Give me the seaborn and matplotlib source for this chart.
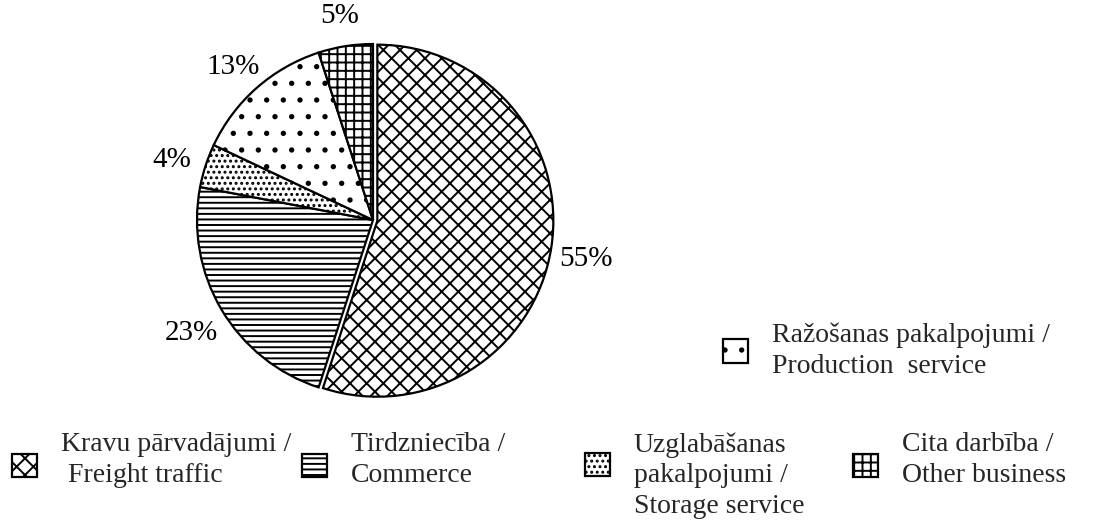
import numpy as np
import pandas as pd
import seaborn as sns
from matplotlib import pyplot as plt
from matplotlib import transforms
from matplotlib.legend_handler import HandlerPatch
from matplotlib.patches import Rectangle

# shares of activity types, clockwise from 12 o'clock
labels = ["Kravu pārvadājumi /\n Freight traffic",
          "Tirdzniecība /\nCommerce",
          "Uzglabāšanas\npakalpojumi /\nStorage service",
          "Ražošanas pakalpojumi /\nProduction  service",
          "Cita darbība /\nOther business"]
shares = [55, 23, 4, 13, 5]
hatches = ["xx", "---", "...", ".", "++"]
explode = [0.025, 0, 0, 0, 0]

sns.set_theme(style="white")
plt.rcParams['font.family'] = ['Liberation Serif', 'DejaVu Serif']
plt.rcParams['hatch.linewidth'] = 1.4

df = pd.DataFrame({"label": labels, "share": shares})

fig = plt.figure(figsize=(11.05, 5.31), dpi=100)
ax = fig.add_axes([153/1105, 91/531, 440/1105, 440/531])

wedges, texts, autotexts = ax.pie(
    df["share"], explode=explode, startangle=90, counterclock=False,
    colors=["white"]*len(df), hatch=hatches,
    wedgeprops=dict(edgecolor="black", linewidth=1.6),
    autopct="%.0f%%", pctdistance=1.2,
    textprops=dict(fontsize=21, color="black"))
ax.set_xlim(-1.25, 1.25)
ax.set_ylim(-1.25, 1.25)
ax.set_aspect("equal")

# nudge percentage labels a bit down
down = transforms.offset_copy(ax.transData, fig=fig, x=0, y=-5, units="dots")
for t in autotexts:
    t.set_transform(down)


def shifted(shift):
    # move the legend box up/down relative to its label (in font sizes)
    def make(legend, orig_handle, xdescent, ydescent, width, height, fontsize):
        return Rectangle((-xdescent, -ydescent + shift * fontsize), width, height)
    return HandlerPatch(patch_func=make)


# legend entry placement (pixels): handle left, text top, box shift
spots = {0: (12, 432, -0.22), 1: (302, 432, -0.22), 2: (585, 432, 0.4),
         4: (853, 432, -0.22), 3: (723, 323, 0.0)}

for i, (px, py, sh) in spots.items():
    leg = fig.legend([wedges[i]], [labels[i]], loc="upper left",
                     bbox_to_anchor=(px/1105, 1 - py/531),
                     frameon=False, fontsize=20, handlelength=0.9, handleheight=0.9,
                     handletextpad=0.85, borderpad=0, borderaxespad=0,
                     handler_map={wedges[i]: shifted(sh)})
    for t in leg.get_texts():
        t.set_linespacing(1.3)

plt.savefig("out.png", dpi=100)
plt.close()
